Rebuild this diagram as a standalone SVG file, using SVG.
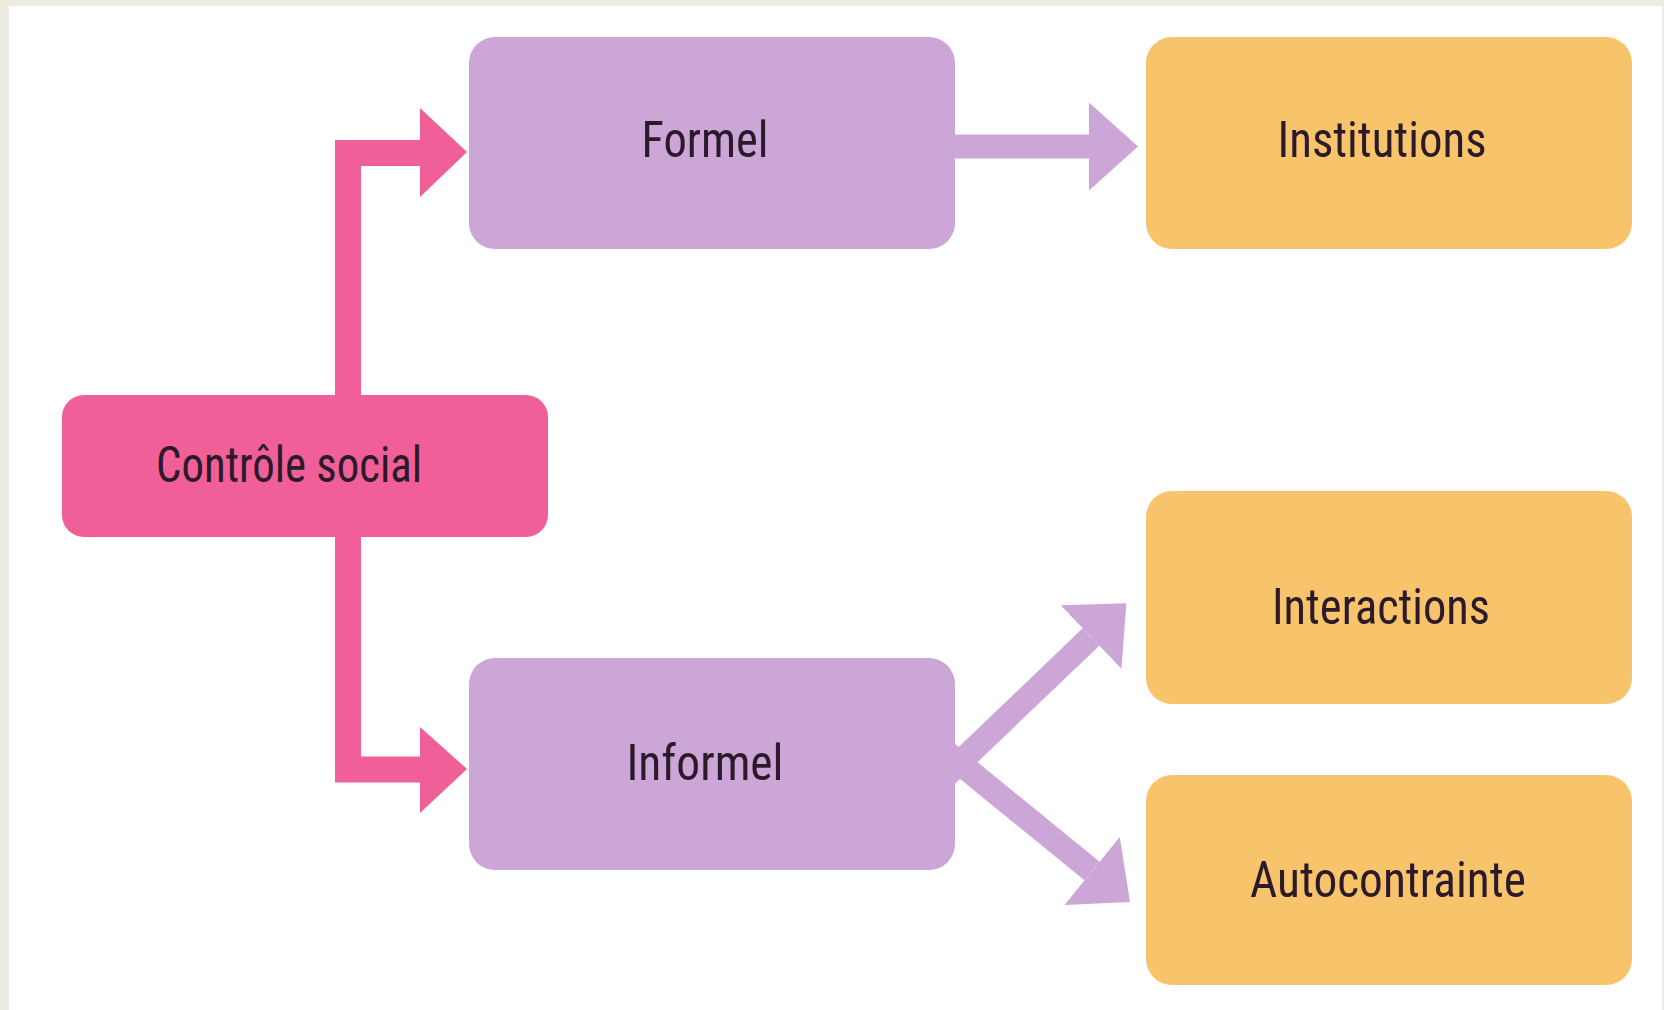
<svg xmlns="http://www.w3.org/2000/svg" width="1664" height="1010" viewBox="0 0 1664 1010">
  <style>
    .frame { fill: #eeebe3; }
    .paper { fill: #ffffff; }
    .pink { fill: #f05f97; }
    .purple { fill: #cba6d7; }
    .orange { fill: #f8c46b; }
    .label { font-family: "Liberation Sans Narrow", "Roboto Condensed", "Liberation Sans", sans-serif; font-size: 50px; fill: #2a1a2a; text-anchor: middle; }
    .pinkline { fill: none; stroke: #f05f97; stroke-width: 26; stroke-linejoin: miter; }
    .purpleline { fill: none; stroke: #cba6d7; stroke-width: 24; }
  </style>
  <defs>
    <marker id="headPurple" markerUnits="userSpaceOnUse" markerWidth="50" markerHeight="88" refX="0" refY="44" orient="auto">
      <path d="M0,0 L49,44 L0,88 Z" fill="#cba6d7"/>
    </marker>
  </defs>

  <rect class="frame" x="0" y="0" width="1664" height="1010"/>
  <rect class="paper" x="9" y="6" width="1653" height="1004"/>

  <g id="connectors">
    <path class="pinkline" d="M421,153 L348,153 L348,769.5 L421,769.5"/>
    <polygon class="pink" points="420,108 467,152 420,197"/>
    <polygon class="pink" points="420,727 467,769 420,813"/>
    <line class="purpleline" x1="940" y1="146.5" x2="1089" y2="146.5" marker-end="url(#headPurple)"/>
    <line class="purpleline" x1="930" y1="791" x2="1091" y2="637" marker-end="url(#headPurple)"/>
    <line class="purpleline" x1="930" y1="739" x2="1092" y2="871" marker-end="url(#headPurple)"/>
  </g>

  <g id="node-controle">
    <rect class="pink" x="62" y="395" width="486" height="142" rx="22"/>
    <text class="label" x="289" y="482" textLength="266" lengthAdjust="spacingAndGlyphs">Contrôle social</text>
  </g>
  <g id="node-formel">
    <rect class="purple" x="469" y="37" width="486" height="212" rx="26"/>
    <text class="label" x="705" y="157" textLength="127" lengthAdjust="spacingAndGlyphs">Formel</text>
  </g>
  <g id="node-informel">
    <rect class="purple" x="469" y="658" width="486" height="212" rx="26"/>
    <text class="label" x="705" y="780" textLength="157" lengthAdjust="spacingAndGlyphs">Informel</text>
  </g>
  <g id="node-institutions">
    <rect class="orange" x="1146" y="37" width="486" height="212" rx="26"/>
    <text class="label" x="1382" y="157" textLength="209" lengthAdjust="spacingAndGlyphs">Institutions</text>
  </g>
  <g id="node-interactions">
    <rect class="orange" x="1146" y="491" width="486" height="213" rx="26"/>
    <text class="label" x="1381" y="624" textLength="218" lengthAdjust="spacingAndGlyphs">Interactions</text>
  </g>
  <g id="node-autocontrainte">
    <rect class="orange" x="1146" y="775" width="486" height="210" rx="26"/>
    <text class="label" x="1388" y="897" textLength="276" lengthAdjust="spacingAndGlyphs">Autocontrainte</text>
  </g>
</svg>
